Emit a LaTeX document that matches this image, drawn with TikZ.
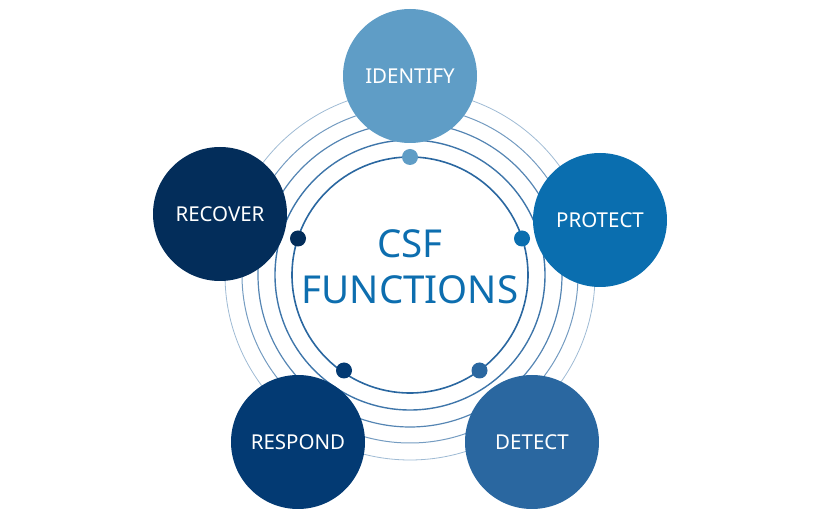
\documentclass[tikz,border=0pt]{standalone}
\usepackage{fontspec}
\setmainfont{Noto Sans}
\usepackage{tikz}
\usetikzlibrary{calc}

\definecolor{identc}{HTML}{5F9DC6}
\definecolor{protc}{HTML}{0A6EAF}
\definecolor{detc}{HTML}{2A67A0}
\definecolor{respc}{HTML}{033A73}
\definecolor{recc}{HTML}{032D5A}
\definecolor{ringc}{HTML}{2A67A0}
\definecolor{titlec}{HTML}{0D6EAF}

\tikzset{
    func/.style={circle, minimum size=134pt, inner sep=0pt, text=white, font=\fontsize{20.5}{20.5}\selectfont}
}

\begin{document}
\begin{tikzpicture}[x=1pt, y=-1pt]
            \useasboundingbox (0, 0) rectangle (820, 510);
            \coordinate (c) at (410, 275);
            % rings, lighter towards the outside
            \foreach \r/\w/\o in {118/1.6/100, 135/1.4/90, 152/1.2/80, 168/1.0/65, 185/0.8/45}
                \draw[line width=\w pt, color=ringc!\o!white] (c) circle (\r);
            % dots on the inner ring
            \fill[identc] ($(c)+(0, -118)$) circle (8);
            \fill[protc] ($(c)+(112, -36.5)$) circle (8);
            \fill[detc] ($(c)+(69.5, 95.5)$) circle (8);
            \fill[respc] ($(c)+(-66, 95.5)$) circle (8);
            \fill[recc] ($(c)+(-112, -36.5)$) circle (8);
            % the five functions
            \node[func, fill=identc] (identify) at (410, 76) {IDENTIFY};
            \node[func, fill=protc] (protect) at (600, 220) {PROTECT};
            \node[func, fill=detc] (detect) at (532, 442) {DETECT};
            \node[func, fill=respc] (respond) at (298, 442) {RESPOND};
            \node[func, fill=recc] (recover) at (220, 214) {RECOVER};
            \node[text=titlec, align=center, font=\fontsize{38.5}{46}\selectfont] (title) at (410, 267) {CSF\\FUNCTIONS};
        \end{tikzpicture}
\end{document}
